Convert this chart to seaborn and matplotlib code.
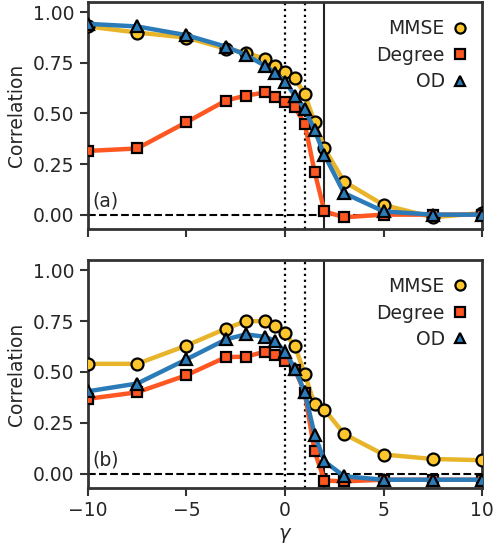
import numpy as np
import matplotlib
matplotlib.use("Agg")
import matplotlib.pyplot as plt
from matplotlib.lines import Line2D
import seaborn as sns

gamma = [-10, -7.5, -5, -3, -2, -1, -0.5, 0, 0.5, 1, 1.5, 2, 3, 5, 7.5, 10]

mmse_a = [0.93, 0.90, 0.875, 0.82, 0.80, 0.77, 0.735, 0.705, 0.675, 0.595, 0.457, 0.327, 0.163, 0.048, -0.013, 0.008]
degree_a = [0.315, 0.327, 0.457, 0.564, 0.588, 0.604, 0.58, 0.555, 0.53, 0.45, 0.212, 0.016, -0.013, 0.0, 0.0, 0.0]
od_a = [0.943, 0.93, 0.887, 0.83, 0.79, 0.735, 0.70, 0.657, 0.588, 0.523, 0.417, 0.294, 0.106, 0.016, 0.0, 0.0]

mmse_b = [0.54, 0.54, 0.63, 0.713, 0.75, 0.75, 0.726, 0.69, 0.627, 0.49, 0.34, 0.315, 0.195, 0.094, 0.072, 0.066]
degree_b = [0.368, 0.40, 0.484, 0.573, 0.575, 0.60, 0.583, 0.553, 0.512, 0.397, 0.11, -0.034, -0.038, -0.03, -0.03, -0.03]
od_b = [0.405, 0.443, 0.562, 0.66, 0.685, 0.673, 0.652, 0.60, 0.517, 0.40, 0.192, 0.06, -0.013, -0.03, -0.03, -0.03]

labels = ["MMSE", "Degree", "OD"]
panel_tags = ["(a)", "(b)"]

sns.set_style("ticks")
plt.rcParams["font.family"] = ["DejaVu Sans"]
plt.rcParams["text.color"] = "#262626"
plt.rcParams["axes.labelcolor"] = "#262626"
plt.rcParams["xtick.color"] = "#262626"
plt.rcParams["ytick.color"] = "#262626"

estilos = [
    dict(color="#E8B52A", marker="o", mfc="#FCC62C", ms=8.6),
    dict(color="#FF5722", marker="s", mfc="#FF5722", ms=7.8),
    dict(color="#2B7BB9", marker="^", mfc="#2B7BB9", ms=8.8),
]

fig = plt.figure(figsize=(4.94, 5.5), dpi=100)
ax_a = fig.add_axes([0.178, 0.584, 0.798, 0.412])
ax_b = fig.add_axes([0.178, 0.113, 0.798, 0.414])

for ax, series, tag in [(ax_a, [mmse_a, degree_a, od_a], panel_tags[0]),
                        (ax_b, [mmse_b, degree_b, od_b], panel_tags[1])]:
    ax.axhline(0, color="black", ls="--", lw=1.5, zorder=1)
    ax.axvline(0, color="black", ls=":", lw=1.6, zorder=1)
    ax.axvline(1, color="black", ls=":", lw=1.6, zorder=1)
    ax.axvline(2, color="#222222", ls="-", lw=1.5, zorder=1)

    for vals, lab, st in zip(series, labels, estilos):
        sns.lineplot(
            x=gamma, y=vals, ax=ax,
            color=st["color"], linewidth=3.2,
            marker=st["marker"], markersize=st["ms"],
            markerfacecolor=st["mfc"], markeredgecolor="black",
            markeredgewidth=1.6, zorder=3,
        )

    ax.set_xlim(-10, 10)
    ax.set_ylim(-0.07, 1.05)
    ax.set_yticks([0, 0.25, 0.5, 0.75, 1.0])
    ax.set_yticklabels(["0.00", "0.25", "0.50", "0.75", "1.00"])
    ax.set_xticks([-10, -5, 0, 5, 10])
    ax.set_ylabel("Correlation", fontsize=13.5, labelpad=5)
    ax.tick_params(labelsize=13.5, width=1.5, length=6, color="#333333")
    for s in ax.spines.values():
        s.set_linewidth(2)
        s.set_color("#333333")
    ax.text(-9.75, 0.02, tag, fontsize=13.5, va="bottom", ha="left")

    handles = [
        Line2D([], [], ls="none", marker=st["marker"], markersize=st["ms"] * 0.85,
               markerfacecolor=st["mfc"], markeredgecolor="black", markeredgewidth=1.6)
        for st in estilos
    ]
    ax.legend(handles, labels, loc="upper right", frameon=False, markerfirst=False,
              fontsize=13.5, handlelength=0.6, handletextpad=0.5, labelspacing=0.4,
              borderaxespad=0.5)

ax_a.tick_params(labelbottom=False)
ax_b.set_xlabel(r"$\gamma$", fontsize=14)

fig.savefig("out.png", dpi=100)
